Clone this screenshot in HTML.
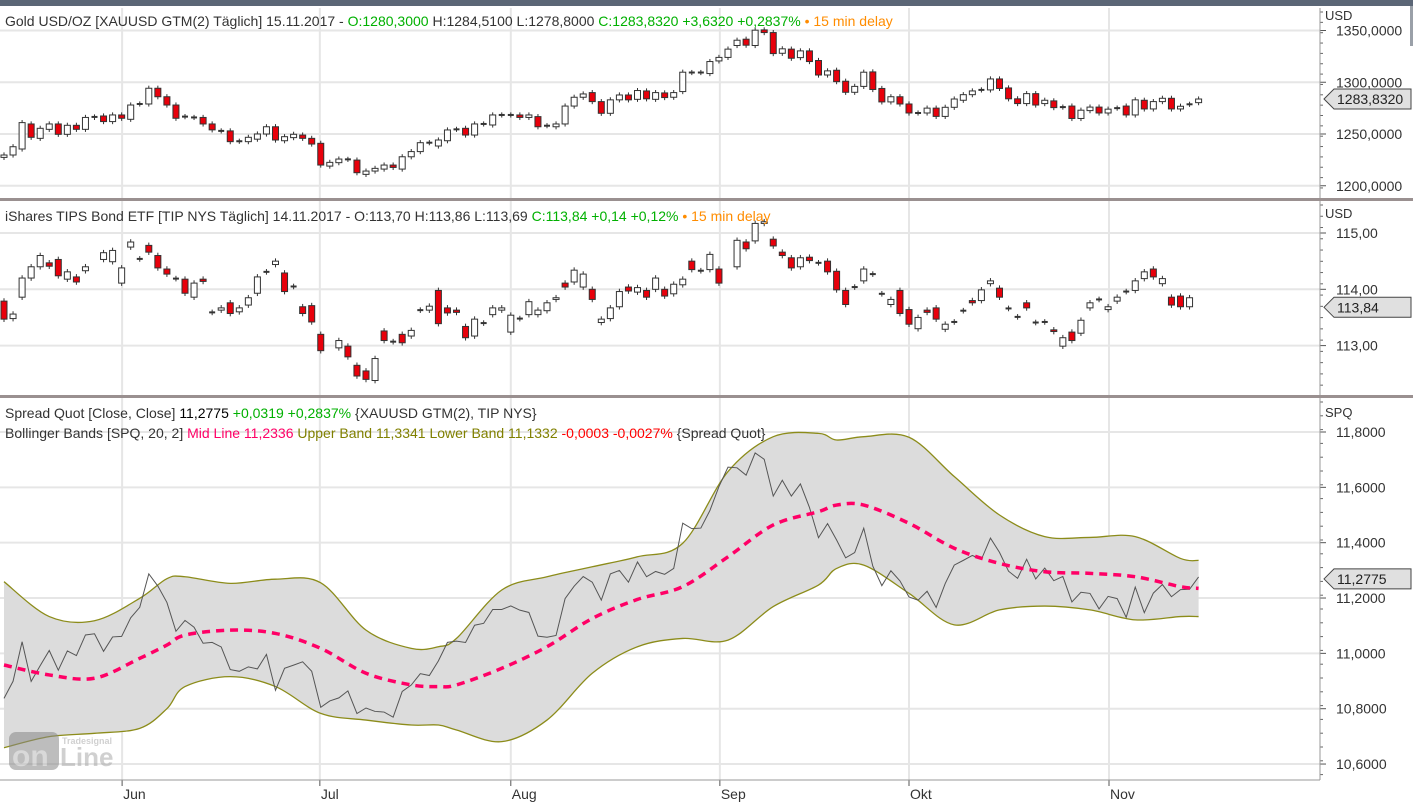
<!DOCTYPE html>
<html><head><meta charset="utf-8"><title>Gold / TIPS Spread Chart</title>
<style>
html,body{margin:0;padding:0;background:#fff;width:1413px;height:802px;overflow:hidden}
svg{display:block;font-family:"Liberation Sans","DejaVu Sans",sans-serif}
</style></head>
<body>
<svg id="chart" width="1413" height="802" viewBox="0 0 1413 802" xmlns="http://www.w3.org/2000/svg">
  <rect x="0" y="0" width="1413" height="6" fill="#5b6676"/>
  <rect x="1410" y="6" width="3" height="40" fill="#9aa0a8"/>
  <g id="grid"></g>
  <g id="p3fill"></g>
  <g id="marks"></g>
  <g id="axes"></g>

  <rect x="0" y="198" width="1413" height="3" fill="#9a9090"/>
  <rect x="0" y="395" width="1413" height="3" fill="#9a9090"/>

  <text x="5" y="26" font-size="14" fill="#333">Gold USD/OZ [XAUUSD GTM(2) Täglich] 15.11.2017 - <tspan fill="#00b000">O:1280,3000</tspan> H:1284,5100 L:1278,8000 <tspan fill="#00b000">C:1283,8320 +3,6320 +0,2837%</tspan> <tspan fill="#ff8c00">• 15 min delay</tspan></text>
  <text x="5" y="221" font-size="14" fill="#333">iShares TIPS Bond ETF [TIP NYS Täglich] 14.11.2017 - O:113,70 H:113,86 L:113,69 <tspan fill="#00b000">C:113,84 +0,14 +0,12%</tspan> <tspan fill="#ff8c00">• 15 min delay</tspan></text>
  <text x="5" y="418" font-size="14" fill="#333">Spread Quot [Close, Close] <tspan fill="#000">11,2775</tspan> <tspan fill="#00b000">+0,0319 +0,2837%</tspan> {XAUUSD GTM(2), TIP NYS}</text>
  <text x="5" y="438" font-size="14" fill="#333">Bollinger Bands [SPQ, 20, 2] <tspan fill="#ff0066">Mid Line 11,2336</tspan> <tspan fill="#808000">Upper Band 11,3341 Lower Band 11,1332</tspan> <tspan fill="#ff0000">-0,0003 -0,0027%</tspan> {Spread Quot}</text>

  <g opacity="0.55">
    <rect x="9" y="732" width="50" height="38" rx="7" fill="#888"/>
    <text x="12" y="766" font-size="30" font-weight="bold" fill="#bbb">on</text>
    <text x="60" y="766" font-size="26" font-weight="bold" fill="#aaa">Line</text>
    <text x="62" y="744" font-size="9" font-weight="bold" fill="#aaa">Tradesignal</text>
  </g>
</svg>
<script>
// ---------- DATA ----------
const goldOpen = [1227.4,1229.7,1235.5,1259.7,1245.8,1254.5,1259.7,1249.7,1258.4,1254.5,1266,1267.4,1262,1268.4,1264.2,1279,1279,1294.2,1286,1278,1266.8,1266,1266,1259.7,1253,1253,1243,1242.6,1245,1250,1257,1243.5,1246.5,1249,1245.8,1241,1219,1222.3,1225.5,1224.8,1211,1214.2,1216.1,1220,1216.1,1228,1233,1241.6,1238.4,1243.5,1254.5,1255.5,1249,1259.7,1258.7,1268.4,1268.4,1268.4,1266,1266.8,1258,1257,1259.7,1277,1285.5,1290,1281.3,1270,1283,1287.7,1283.5,1291.6,1283.5,1289.7,1285.5,1291,1309.4,1309.4,1308.4,1320.6,1324,1335.5,1341.6,1335.5,1350.6,1348,1328,1332,1323.8,1330.3,1321,1307,1311.6,1301,1290.3,1296,1310,1294,1281,1286,1279,1270.3,1270.3,1275,1267,1275.8,1282.6,1288,1292.6,1292.6,1303.2,1294.5,1284,1279.4,1289,1279.4,1282,1276,1277,1265,1272.6,1276,1270.3,1275,1277,1268.4,1282.6,1274.2,1281.3,1284.5,1274.2,1278.7,1280.3];
const goldClose = [1229.7,1237.7,1261,1246.8,1255.5,1259.7,1249.7,1258.4,1254.5,1266,1266.5,1262,1268.4,1265.2,1278,1279,1294.2,1286,1278,1265.2,1266.8,1266,1259.7,1254,1253,1242.6,1243,1246.8,1250,1257,1244.2,1247.4,1249.7,1245.8,1240.3,1220,1222.6,1225.8,1225.5,1212.6,1214.2,1216.8,1220,1217.7,1228,1233,1241.6,1241.6,1244.2,1253.9,1254.5,1249,1259.7,1259.7,1268.4,1268.4,1268.4,1266,1268.4,1257,1258,1259.7,1277,1285.5,1288.7,1281.3,1270,1283,1287.7,1283,1292,1284,1290,1285.2,1290,1309.7,1309.4,1309.4,1320,1324,1332,1340.6,1335.8,1350.3,1348,1327.7,1332.3,1323.2,1330.3,1320,1307,1311,1300.6,1290.3,1296,1309.7,1293,1281,1286,1279,1270.3,1270.3,1275,1267,1275.8,1283.8,1288,1291.6,1292.6,1303.2,1294,1284,1279.4,1289,1278,1282.6,1275.5,1276,1265,1273,1276,1270.3,1274,1275,1268.4,1283,1274.2,1281.3,1284.5,1274.2,1276.8,1278.7,1283.8];
const tipOpen = [113.79,113.48,113.86,114.20,114.40,114.47,114.53,114.18,114.22,114.33,null,114.53,114.49,114.11,114.75,114.54,114.78,114.60,114.36,114.19,114.18,113.86,114.18,113.59,113.63,113.76,113.60,113.72,113.93,114.31,114.44,114.29,114.05,113.69,113.71,113.20,null,112.96,112.99,112.65,112.55,112.38,113.26,113.07,113.20,113.17,113.63,113.63,113.98,113.67,113.63,113.34,113.17,113.40,113.55,113.63,113.24,113.48,113.55,113.55,113.62,113.82,114.11,114.13,114.04,114.00,113.41,113.48,113.69,114.04,113.95,113.98,114.00,114.00,113.92,114.08,114.50,114.33,114.35,114.36,null,114.40,114.84,114.86,115.17,114.89,114.66,114.56,114.40,114.57,114.47,114.50,114.32,113.98,114.04,114.15,114.27,113.92,113.73,113.98,113.64,113.30,113.63,113.67,113.29,113.42,113.62,113.80,113.80,114.10,114.02,113.66,113.51,113.76,113.41,113.42,113.28,112.99,113.24,113.22,113.67,113.82,113.64,113.79,113.96,113.98,114.19,114.36,114.10,113.86,113.88,113.69,null];
const tipClose = [113.47,113.56,114.20,114.40,114.60,114.41,114.24,114.31,114.13,114.40,null,114.65,114.69,114.38,114.84,114.54,114.66,114.38,114.27,114.19,113.93,114.11,114.14,113.59,113.67,113.57,113.67,113.85,114.22,114.31,114.50,113.96,114.05,113.57,113.42,112.91,null,113.09,112.80,112.46,112.40,112.77,113.09,113.07,113.05,113.27,113.63,113.70,113.39,113.58,113.59,113.14,113.47,113.40,113.67,113.67,113.54,113.48,113.78,113.63,113.76,113.85,114.04,114.34,114.27,113.82,113.47,113.67,113.96,113.97,114.03,113.86,114.20,113.88,114.09,114.18,114.35,114.33,114.62,114.11,null,114.87,114.72,115.17,115.20,114.77,114.60,114.38,114.56,114.51,114.47,114.31,113.99,113.73,114.04,114.36,114.27,113.92,113.82,113.57,113.38,113.50,113.59,113.47,113.38,113.42,113.62,113.76,113.99,114.15,113.86,113.66,113.51,113.67,113.41,113.42,113.25,113.14,113.09,113.45,113.76,113.82,113.69,113.86,113.96,114.15,114.31,114.22,114.19,113.72,113.69,113.85,null];
const bandIdx   = [0,5,10,15,18,20,25,30,35,40,45,48,50,55,60,65,70,75,80,85,90,92,95,100,105,110,115,120,125,130,132];
const upperBand = [11.259,11.133,11.118,11.199,11.270,11.277,11.253,11.268,11.255,11.084,11.018,11.024,11.054,11.229,11.277,11.313,11.349,11.398,11.657,11.783,11.795,11.771,11.783,11.781,11.639,11.500,11.422,11.419,11.422,11.343,11.336];
const midBand   = [10.958,10.922,10.910,10.982,11.030,11.066,11.084,11.072,11.018,10.928,10.886,10.880,10.886,10.946,11.024,11.126,11.195,11.241,11.349,11.464,11.512,11.536,11.536,11.470,11.380,11.325,11.295,11.289,11.277,11.241,11.235];
const lowerBand = [10.659,10.699,10.711,10.729,10.800,10.880,10.916,10.880,10.783,10.759,10.741,10.741,10.723,10.681,10.759,10.928,11.024,11.054,11.048,11.169,11.247,11.307,11.319,11.217,11.103,11.157,11.171,11.157,11.121,11.133,11.133];
const goldTicks = [1350,1300,1250,1200];
const goldTickLabels = ["1350,0000","1300,0000","1250,0000","1200,0000"];
const tipTicks = [115,114,113];
const tipTickLabels = ["115,00","114,00","113,00"];
const spqTicks = [11.8,11.6,11.4,11.2,11.0,10.8,10.6];
const spqTickLabels = ["11,8000","11,6000","11,4000","11,2000","11,0000","10,8000","10,6000"];
const monthIdx = [13.05,34.9,56,79.1,100,122.1];
const monthLabels = ["Jun","Jul","Aug","Sep","Okt","Nov"];

// ---------- SCALES ----------
const NS="http://www.w3.org/2000/svg";
const PLOT_R=1320;
const xOf = i => 4 + 9.05*i;
const yGold = p => 134 - (p-1250)*1.035;
const yTip = t => 289.3 - (t-114)*56.3;
const ySpq = v => 432 + (11.8-v)*276.7;
function mk(tag, attrs, parent){const e=document.createElementNS(NS,tag);for(const k in attrs)e.setAttribute(k,attrs[k]);parent.appendChild(e);return e;}
const grid=document.getElementById('grid'), marks=document.getElementById('marks'), axes=document.getElementById('axes'), fillG=document.getElementById('p3fill');

function axisPanel(ticks, labels, yf, top, bottom, name, minor){
  ticks.forEach((t,k)=>{
    const y=yf(t);
    const g=mk('line',{x1:0,x2:PLOT_R,y1:y,y2:y,stroke:'#e6e6e6','stroke-width':2},grid);
    
    
    mk('line',{x1:PLOT_R,x2:PLOT_R+6,y1:y,y2:y,stroke:'#555'},axes);
    const tx=mk('text',{x:PLOT_R+16,y:y+5,'font-size':14,fill:'#333'},axes);
    tx.textContent=labels[k];
    
    
  });
  for(let y=top+4;y<bottom;y+=minor){mk('line',{x1:PLOT_R,x2:PLOT_R+3,y1:y,y2:y,stroke:'#666'},axes);}
  mk('line',{x1:PLOT_R,x2:PLOT_R,y1:top,y2:bottom,stroke:'#999'},axes);
}
axisPanel(goldTicks,goldTickLabels,yGold,8,198,'gold',10.35);
axisPanel(tipTicks,tipTickLabels,yTip,201,395,'tip',11.26);
axisPanel(spqTicks,spqTickLabels,ySpq,398,780,'spq',13.8);
[['USD',16],['USD',214],['SPQ',413]].forEach(a=>{const t=mk('text',{x:1325,y:a[1]+4,'font-size':13,fill:'#333'},axes);t.textContent=a[0];
  
  });

monthIdx.forEach((m,k)=>{
  const x=xOf(m);
  [[8,198],[201,395],[398,780]].forEach(r=>mk('line',{x1:x,x2:x,y1:r[0],y2:r[1],stroke:'#e6e6e6','stroke-width':2},grid));
  mk('line',{x1:x,x2:x,y1:780,y2:786,stroke:'#555'},axes);
  const t=mk('text',{x:x+1,y:799,'font-size':14,fill:'#333'},axes);
  t.textContent=monthLabels[k];
  
  
});
mk('line',{x1:0,x2:PLOT_R,y1:780,y2:780,stroke:'#999'},axes);

function candles(op,cl,yf,wick,name){
  for(let i=0;i<op.length;i++){
    if(op[i]==null||cl[i]==null) continue;
    const x=xOf(i), o=op[i], c=cl[i];
    const hi=Math.max(o,c)+wick, lo=Math.min(o,c)-wick;
    const g=mk('g',{},marks);
    
    
    mk('line',{x1:x,x2:x,y1:yf(hi),y2:yf(lo),stroke:'#333'},g);
    const top=yf(Math.max(o,c)), bot=yf(Math.min(o,c));
    const h=Math.max(1,bot-top);
    if(h<=1.5){ mk('line',{x1:x-3,x2:x+3,y1:top,y2:top,stroke:'#333','stroke-width':2},g); }
    else mk('rect',{x:x-3,y:top,width:6,height:h,fill:c>=o?'#fff':'#e8000b',stroke:'#333','stroke-width':1},g);
  }
}
candles(goldOpen,goldClose,yGold,2.5,'gold');
candles(tipOpen,tipClose,yTip,0.05,'tip');

function pts(vals){return bandIdx.map((ix,k)=>[xOf(ix),ySpq(vals[k])]);}
function smooth(p){
  let d='M'+p[0][0]+','+p[0][1];
  for(let i=0;i<p.length-1;i++){
    const p0=p[Math.max(0,i-1)],p1=p[i],p2=p[i+1],p3=p[Math.min(p.length-1,i+2)];
    const c1=[p1[0]+(p2[0]-p0[0])/6,p1[1]+(p2[1]-p0[1])/6],c2=[p2[0]-(p3[0]-p1[0])/6,p2[1]-(p3[1]-p1[1])/6];
    d+=' C'+c1[0]+','+c1[1]+' '+c2[0]+','+c2[1]+' '+p2[0]+','+p2[1];
  }
  return d;
}
const up=pts(upperBand), lw=pts(lowerBand), md=pts(midBand);
const lwRev=lw.slice().reverse();
let fillD=smooth(up)+' L'+lwRev[0][0]+','+lwRev[0][1]+smooth(lwRev).replace(/^M[^ ]+/,'')+' Z';
const fp=mk('path',{d:fillD,fill:'#dcdcdc',stroke:'none'},fillG);


const ub=mk('path',{d:smooth(up),fill:'none',stroke:'#8c8c1a','stroke-width':1.3},marks);


const lb=mk('path',{d:smooth(lw),fill:'none',stroke:'#8c8c1a','stroke-width':1.3},marks);



let lastTip=null, sp=[];
for(let i=0;i<goldClose.length;i++){ if(tipClose[i]!=null) lastTip=tipClose[i]; sp.push(goldClose[i]/lastTip); }
const sl=mk('polyline',{points:sp.map((v,i)=>xOf(i)+','+ySpq(v)).join(' '),fill:'none',stroke:'#555','stroke-width':1},marks);


const ml=mk('path',{d:smooth(md),fill:'none',stroke:'#ff0066','stroke-width':3.5,'stroke-dasharray':'8 6'},marks);



function tag(y,label,name){
  const g=mk('g',{},axes);
  
  
  mk('polygon',{points:`1324,${y} 1334,${y-10} 1411,${y-10} 1411,${y+10} 1334,${y+10}`,fill:'#e0e0e0',stroke:'#444'},g);
  const t=mk('text',{x:1337,y:y+5,'font-size':14,fill:'#222'},g); t.textContent=label;
}
tag(yGold(goldClose[goldClose.length-1]),'1283,8320','gold-price-tag');
tag(yTip(113.84)+9,'113,84','tip-price-tag');
tag(ySpq(sp[sp.length-1])+2,'11,2775','spread-price-tag');
</script>
</body></html>
